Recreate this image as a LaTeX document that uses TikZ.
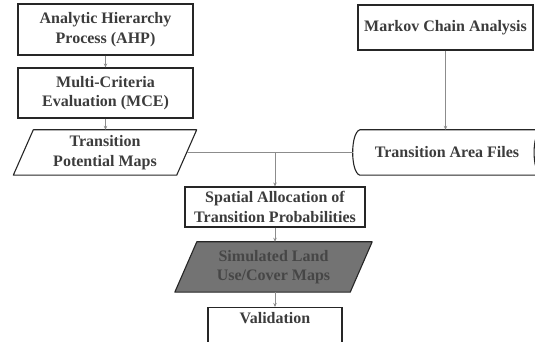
\documentclass[tikz,border=0pt]{standalone}
\usepackage{fontspec}
\setmainfont{Liberation Serif}
\usetikzlibrary{arrows.meta,backgrounds}
\definecolor{txtgray}{RGB}{60,60,60}
\definecolor{linegray}{RGB}{140,140,140}
\definecolor{simfill}{RGB}{115,115,115}
\definecolor{simtext}{RGB}{70,70,70}

\begin{document}
\begin{tikzpicture}[x=1pt,y=1pt,
  label text/.style={inner sep=0pt,align=center,text=txtgray,font=\fontsize{16}{19.5}\selectfont\bfseries},
  box/.style={label text,draw=black!85,line width=1.1pt},
  frame/.style={draw=black!85,line width=1.1pt,line join=round},
  link/.style={draw=linegray,line width=0.9pt},
  arr/.style={link,-{Stealth[length=4pt,width=3.5pt]}}]
  \useasboundingbox (0,0) rectangle (535,342);

  % left column
  \node[box,minimum width=175,minimum height=51] (ahp) at (105.5,312.5) {Analytic Hierarchy\\Process (AHP)};
  \node[box,minimum width=175,minimum height=50] (mce) at (105.5,249) {Multi-Criteria\\Evaluation (MCE)};
  \node[label text,minimum width=163,minimum height=45] (tpm) at (105,189.5) {Transition\\Potential Maps};

  % right column
  \node[box,minimum width=175,minimum height=45] (markov) at (445.5,314.5) {Markov Chain Analysis};
  \node[label text,minimum width=174,minimum height=45] (taf) at (447,189.5) {Transition Area Files};

  % middle
  \node[box,minimum width=180,minimum height=40] (spatial) at (275,135) {Spatial Allocation of\\Transition Probabilities};
  \node[label text,text=simtext,minimum width=175,minimum height=50] (sim) at (273.5,75) {Simulated Land\\Use/Cover Maps};
  \node[box,minimum width=134,text height=16,text depth=22,anchor=north] (val) at (275,35) {Validation};

  \begin{pgfonlayer}{background}
    \draw[frame] ([xshift=10]tpm.north west) -- ([xshift=10]tpm.north east) -- ([xshift=-10]tpm.south east) -- ([xshift=-10]tpm.south west) -- cycle;
    \draw[frame,fill=simfill] ([xshift=11]sim.north west) -- ([xshift=11]sim.north east) -- ([xshift=-11]sim.south east) -- ([xshift=-11]sim.south west) -- cycle;
    \draw[frame] ([xshift=7]taf.north east) -- (taf.north west) .. controls +(-9.5,-3) and +(-9.5,3) .. (taf.south west) -- ([xshift=7]taf.south east) .. controls +(-9.5,3) and +(-9.5,-3) .. ([xshift=7]taf.north east);
  \end{pgfonlayer}

  \coordinate (split) at (spatial.north |- tpm.east);
  \draw[arr] (ahp.south) -- (mce.north);
  \draw[arr] (mce.south) -- (mce.south |- tpm.north);
  \draw[arr] (markov.south) -- (markov.south |- taf.north);
  \draw[link] (tpm.east) -- ([xshift=-7]taf.west);
  \draw[arr] (split) -- (spatial.north);
  \draw[arr] (spatial.south) -- (spatial.south |- sim.north);
  \draw[arr] (sim.south -| val.north) -- (val.north);
\end{tikzpicture}
\end{document}
